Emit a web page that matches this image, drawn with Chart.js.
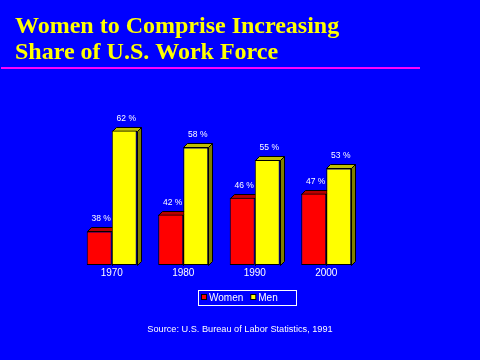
<!DOCTYPE html>
<html>
<head>
<meta charset="utf-8">
<script src="https://cdn.jsdelivr.net/npm/chart.js@4/dist/chart.umd.min.js"></script>
<style>
  html, body { margin: 0; padding: 0; background: #0000FF; }
  #wrap { width: 480px; height: 360px; position: relative; }
</style>
</head>
<body>
<div id="wrap"><canvas id="c" width="480" height="360"></canvas></div>
<script>
const titleLines = ["Women to Comprise Increasing", "Share of U.S. Work Force"];
const sourceText = "Source: U.S. Bureau of Labor Statistics, 1991";
const years = ["1970", "1980", "1990", "2000"];
const seriesNames = ["Women", "Men"];
const womenShare = [38, 42, 46, 47];
const menShare = [62, 58, 55, 53];
const axisMin = 30;
const axisMax = 70;

const BG = "#0000FF";
const DEPTH = 4;
const faceColors = [
  { top: "#B80000", side: "#800000" },
  { top: "#C0C000", side: "#808000" }
];

const decor = {
  id: "decor",
  beforeDraw(chart) {
    const ctx = chart.ctx;
    ctx.save();
    ctx.fillStyle = BG;
    ctx.fillRect(0, 0, chart.width, chart.height);
    ctx.fillStyle = "#FFFF00";
    ctx.font = "bold 24px 'Liberation Serif', 'Times New Roman', serif";
    ctx.textBaseline = "alphabetic";
    ctx.textAlign = "left";
    ctx.fillText(titleLines[0], 15, 33);
    ctx.fillText(titleLines[1], 15, 59);
    ctx.fillStyle = "#FF00FF";
    ctx.fillRect(1, 67, 419, 2);
    ctx.fillStyle = "#FFFFFF";
    ctx.font = "9.2px 'Liberation Sans', Arial, sans-serif";
    ctx.textAlign = "center";
    ctx.textBaseline = "middle";
    ctx.fillText(sourceText, 240, 329);
    ctx.restore();
  },
  beforeDatasetsDraw(chart) {
    const ctx = chart.ctx;
    ctx.save();
    ctx.lineWidth = 1;
    ctx.strokeStyle = "#000000";
    chart.data.datasets.forEach((ds, di) => {
      const meta = chart.getDatasetMeta(di);
      meta.data.forEach((bar) => {
        const p = bar.getProps(["x", "y", "base", "width"], true);
        const l = Math.round(p.x - p.width / 2) + 0.5;
        const r = Math.round(p.x + p.width / 2) + 0.5;
        const t = Math.round(p.y) + 0.5;
        const b = Math.round(p.base) + 0.5;
        ctx.beginPath();
        ctx.moveTo(l, t);
        ctx.lineTo(l + DEPTH, t - DEPTH);
        ctx.lineTo(r + DEPTH, t - DEPTH);
        ctx.lineTo(r, t);
        ctx.closePath();
        ctx.fillStyle = faceColors[di].top;
        ctx.fill();
        ctx.stroke();
        ctx.beginPath();
        ctx.moveTo(r, t);
        ctx.lineTo(r + DEPTH, t - DEPTH);
        ctx.lineTo(r + DEPTH, b - DEPTH);
        ctx.lineTo(r, b);
        ctx.closePath();
        ctx.fillStyle = faceColors[di].side;
        ctx.fill();
        ctx.stroke();
      });
    });
    ctx.restore();
  },
  afterDatasetsDraw(chart) {
    const ctx = chart.ctx;
    ctx.save();
    ctx.fillStyle = "#FFFFFF";
    ctx.font = "8.5px 'Liberation Sans', Arial, sans-serif";
    ctx.textAlign = "center";
    ctx.textBaseline = "alphabetic";
    chart.data.datasets.forEach((ds, di) => {
      const meta = chart.getDatasetMeta(di);
      meta.data.forEach((bar, i) => {
        const p = bar.getProps(["x", "y"], true);
        ctx.fillText(ds.data[i] + " %", p.x + DEPTH / 2, p.y - DEPTH - 6);
      });
    });
    ctx.restore();
  },
  afterDraw(chart) {
    const ctx = chart.ctx;
    ctx.save();
    ctx.strokeStyle = "#FFFFFF";
    ctx.lineWidth = 1;
    ctx.strokeRect(198.5, 290.5, 98, 15);
    ctx.font = "10px 'Liberation Sans', Arial, sans-serif";
    ctx.textBaseline = "middle";
    ctx.textAlign = "left";
    let x = 201;
    chart.data.datasets.forEach((ds) => {
      ctx.fillStyle = "#000000";
      ctx.fillRect(x, 294, 6, 6);
      ctx.fillStyle = ds.backgroundColor;
      ctx.fillRect(x + 1, 295, 4, 4);
      ctx.fillStyle = "#FFFFFF";
      ctx.fillText(ds.label, x + 8, 298);
      x += 8 + ctx.measureText(ds.label).width + 7;
    });
    ctx.restore();
  }
};

new Chart(document.getElementById("c"), {
  type: "bar",
  data: {
    labels: years,
    datasets: [
      { label: seriesNames[0], data: womenShare, base: axisMin, backgroundColor: "#FF0000", borderColor: "#000000", borderWidth: 1, borderSkipped: false },
      { label: seriesNames[1], data: menShare, base: axisMin, backgroundColor: "#FFFF00", borderColor: "#000000", borderWidth: 1, borderSkipped: false }
    ]
  },
  options: {
    responsive: false,
    animation: false,
    devicePixelRatio: 1,
    layout: { padding: { left: 76, right: 118, top: 97, bottom: 79 } },
    datasets: { bar: { categoryPercentage: 0.7, barPercentage: 1.0 } },
    plugins: { legend: { display: false }, title: { display: false }, tooltip: { enabled: false } },
    scales: {
      y: { display: false, min: axisMin, max: axisMax },
      x: {
        grid: { display: false, drawTicks: false },
        border: { display: false },
        ticks: { color: "#FFFFFF", padding: 2, font: { family: "'Liberation Sans', Arial, sans-serif", size: 10 } }
      }
    }
  },
  plugins: [decor]
});
</script>
</body>
</html>
